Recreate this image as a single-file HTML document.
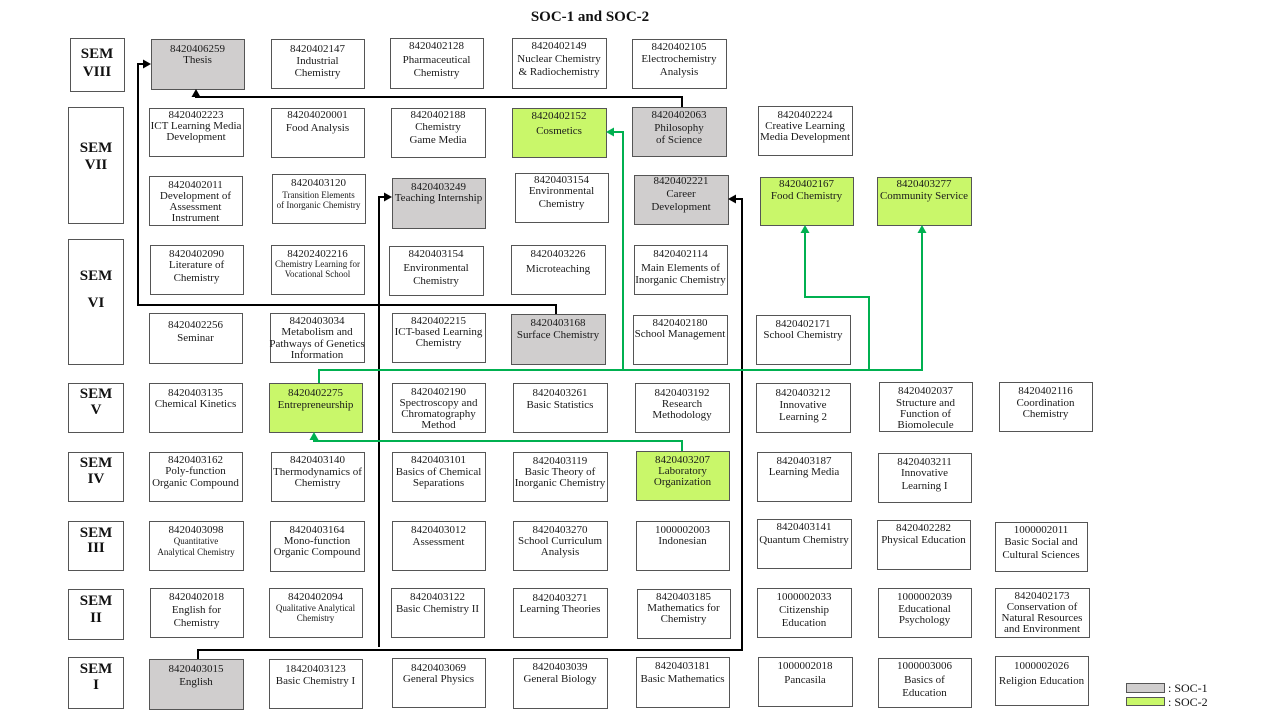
<!DOCTYPE html>
<html>
<head>
<meta charset="utf-8">
<style>
  html,body{margin:0;padding:0;background:#fff;}
  svg{display:block;}
  .b{fill:#fff;stroke:#555;stroke-width:1;}
  .g{fill:#d0cece;stroke:#555;stroke-width:1;}
  .y{fill:#c9f76a;stroke:#555;stroke-width:1;}
  .t{font-family:"Liberation Serif",serif;font-size:11px;text-anchor:middle;fill:#1a1a1a;}
  .s{font-size:9px;}
  .sem{font-family:"Liberation Serif",serif;font-size:15px;font-weight:bold;text-anchor:middle;fill:#111;}
  .kl{fill:none;stroke:#000;stroke-width:2;}
  .gl{fill:none;stroke:#00b050;stroke-width:2;}
</style>
</head>
<body>
<svg width="1280" height="720" viewBox="0 0 1280 720" xmlns="http://www.w3.org/2000/svg">
<rect width="1280" height="720" fill="#fff"/>
<text x="590" y="21" font-family="Liberation Serif, serif" font-size="15" font-weight="bold" text-anchor="middle" fill="#111">SOC-1 and SOC-2</text>

<!-- SEM labels -->
<rect class="b" x="70.5" y="38.5" width="54" height="53"/>
<text class="sem" x="97" y="58">SEM</text><text class="sem" x="97" y="76">VIII</text>
<rect class="b" x="68.5" y="107.5" width="55" height="116"/>
<text class="sem" x="96" y="152">SEM</text><text class="sem" x="96" y="169">VII</text>
<rect class="b" x="68.5" y="239.5" width="55" height="125"/>
<text class="sem" x="96" y="280">SEM</text><text class="sem" x="96" y="307">VI</text>
<rect class="b" x="68.5" y="383.5" width="55" height="49"/>
<text class="sem" x="96" y="398">SEM</text><text class="sem" x="96" y="414">V</text>
<rect class="b" x="68.5" y="452.5" width="55" height="49"/>
<text class="sem" x="96" y="467">SEM</text><text class="sem" x="96" y="483">IV</text>
<rect class="b" x="68.5" y="521.5" width="55" height="49"/>
<text class="sem" x="96" y="537">SEM</text><text class="sem" x="96" y="552">III</text>
<rect class="b" x="68.5" y="589.5" width="55" height="50"/>
<text class="sem" x="96" y="605">SEM</text><text class="sem" x="96" y="622">II</text>
<rect class="b" x="68.5" y="657.5" width="55" height="51"/>
<text class="sem" x="96" y="673">SEM</text><text class="sem" x="96" y="689">I</text>

<!-- Row VIII -->
<rect class="g" x="151.5" y="39.5" width="93" height="50"/>
<text class="t" x="197.5" y="52">8420406259</text><text class="t" x="197.5" y="63">Thesis</text>
<rect class="b" x="271.5" y="39.5" width="93" height="49"/>
<text class="t" x="317.5" y="52">8420402147</text><text class="t" x="317.5" y="64">Industrial</text><text class="t" x="317.5" y="76">Chemistry</text>
<rect class="b" x="390.5" y="38.5" width="93" height="50"/>
<text class="t" x="436.5" y="49">8420402128</text><text class="t" x="436.5" y="63">Pharmaceutical</text><text class="t" x="436.5" y="76">Chemistry</text>
<rect class="b" x="512.5" y="38.5" width="94" height="50"/>
<text class="t" x="559" y="49">8420402149</text><text class="t" x="559" y="62">Nuclear Chemistry</text><text class="t" x="559" y="75">&amp; Radiochemistry</text>
<rect class="b" x="632.5" y="39.5" width="94" height="49"/>
<text class="t" x="679" y="50">8420402105</text><text class="t" x="679" y="62">Electrochemistry</text><text class="t" x="679" y="75">Analysis</text>

<!-- Row VII a -->
<rect class="b" x="149.5" y="108.5" width="94" height="48"/>
<text class="t" x="196" y="118">8420402223</text><text class="t" x="196" y="129">ICT Learning Media</text><text class="t" x="196" y="140">Development</text>
<rect class="b" x="271.5" y="108.5" width="93" height="49"/>
<text class="t" x="317.5" y="118">84204020001</text><text class="t" x="317.5" y="131">Food Analysis</text>
<rect class="b" x="391.5" y="108.5" width="94" height="49"/>
<text class="t" x="438" y="118">8420402188</text><text class="t" x="438" y="130">Chemistry</text><text class="t" x="438" y="143">Game Media</text>
<rect class="y" x="512.5" y="108.5" width="94" height="49"/>
<text class="t" x="559" y="119">8420402152</text><text class="t" x="559" y="134">Cosmetics</text>
<rect class="g" x="632.5" y="107.5" width="94" height="49"/>
<text class="t" x="679" y="118">8420402063</text><text class="t" x="679" y="131">Philosophy</text><text class="t" x="679" y="143">of Science</text>
<rect class="b" x="758.5" y="106.5" width="94" height="49"/>
<text class="t" x="805" y="118">8420402224</text><text class="t" x="805" y="129">Creative Learning</text><text class="t" x="805" y="140">Media Development</text>

<!-- Row VII b -->
<rect class="b" x="149.5" y="176.5" width="93" height="49"/>
<text class="t" x="195.5" y="188">8420402011</text><text class="t" x="195.5" y="199">Development of</text><text class="t" x="195.5" y="210">Assessment</text><text class="t" x="195.5" y="221">Instrument</text>
<rect class="b" x="272.5" y="174.5" width="93" height="49"/>
<text class="t" x="318.5" y="186">8420403120</text><text class="t s" x="318.5" y="198">Transition Elements</text><text class="t s" x="318.5" y="208">of Inorganic Chemistry</text>
<rect class="g" x="392.5" y="178.5" width="93" height="50"/>
<text class="t" x="438.5" y="190">8420403249</text><text class="t" x="438.5" y="201">Teaching Internship</text>
<rect class="b" x="515.5" y="173.5" width="93" height="49"/>
<text class="t" x="561.5" y="183">8420403154</text><text class="t" x="561.5" y="194">Environmental</text><text class="t" x="561.5" y="207">Chemistry</text>
<rect class="g" x="634.5" y="175.5" width="94" height="49"/>
<text class="t" x="681" y="184">8420402221</text><text class="t" x="681" y="197">Career</text><text class="t" x="681" y="210">Development</text>
<rect class="y" x="760.5" y="177.5" width="93" height="48"/>
<text class="t" x="806.5" y="187">8420402167</text><text class="t" x="806.5" y="199">Food Chemistry</text>
<rect class="y" x="877.5" y="177.5" width="94" height="48"/>
<text class="t" x="924" y="187">8420403277</text><text class="t" x="924" y="199" textLength="88" lengthAdjust="spacingAndGlyphs">Community Service</text>

<!-- Row VI a -->
<rect class="b" x="150.5" y="245.5" width="93" height="49"/>
<text class="t" x="196.5" y="257">8420402090</text><text class="t" x="196.5" y="268">Literature of</text><text class="t" x="196.5" y="281">Chemistry</text>
<rect class="b" x="271.5" y="245.5" width="93" height="49"/>
<text class="t" x="317.5" y="257">84202402216</text><text class="t s" x="317.5" y="267">Chemistry Learning for</text><text class="t s" x="317.5" y="277">Vocational School</text>
<rect class="b" x="389.5" y="246.5" width="94" height="49"/>
<text class="t" x="436" y="257">8420403154</text><text class="t" x="436" y="271">Environmental</text><text class="t" x="436" y="284">Chemistry</text>
<rect class="b" x="511.5" y="245.5" width="94" height="49"/>
<text class="t" x="558" y="257">8420403226</text><text class="t" x="558" y="272">Microteaching</text>
<rect class="b" x="634.5" y="245.5" width="93" height="49"/>
<text class="t" x="680.5" y="257">8420402114</text><text class="t" x="680.5" y="271">Main Elements of</text><text class="t" x="680.5" y="283">Inorganic Chemistry</text>

<!-- Row VI b -->
<rect class="b" x="149.5" y="313.5" width="93" height="50"/>
<text class="t" x="195.5" y="328">8420402256</text><text class="t" x="195.5" y="341">Seminar</text>
<rect class="b" x="270.5" y="313.5" width="94" height="49"/>
<text class="t" x="317" y="324">8420403034</text><text class="t" x="317" y="335">Metabolism and</text><text class="t" x="317" y="347">Pathways of Genetics</text><text class="t" x="317" y="358">Information</text>
<rect class="b" x="392.5" y="313.5" width="93" height="49"/>
<text class="t" x="438.5" y="324">8420402215</text><text class="t" x="438.5" y="335">ICT-based Learning</text><text class="t" x="438.5" y="346">Chemistry</text>
<rect class="g" x="511.5" y="314.5" width="94" height="50"/>
<text class="t" x="558" y="326">8420403168</text><text class="t" x="558" y="338">Surface Chemistry</text>
<rect class="b" x="633.5" y="315.5" width="94" height="49"/>
<text class="t" x="680" y="326">8420402180</text><text class="t" x="680" y="337">School Management</text>
<rect class="b" x="756.5" y="315.5" width="94" height="49"/>
<text class="t" x="803" y="327">8420402171</text><text class="t" x="803" y="338">School Chemistry</text>

<!-- Row V -->
<rect class="b" x="149.5" y="383.5" width="93" height="49"/>
<text class="t" x="195.5" y="396">8420403135</text><text class="t" x="195.5" y="407">Chemical Kinetics</text>
<rect class="y" x="269.5" y="383.5" width="93" height="49"/>
<text class="t" x="315.5" y="396">8420402275</text><text class="t" x="315.5" y="408">Entrepreneurship</text>
<rect class="b" x="392.5" y="383.5" width="93" height="49"/>
<text class="t" x="438.5" y="395">8420402190</text><text class="t" x="438.5" y="406">Spectroscopy and</text><text class="t" x="438.5" y="417">Chromatography</text><text class="t" x="438.5" y="428">Method</text>
<rect class="b" x="513.5" y="383.5" width="94" height="49"/>
<text class="t" x="560" y="396">8420403261</text><text class="t" x="560" y="408">Basic Statistics</text>
<rect class="b" x="635.5" y="383.5" width="94" height="49"/>
<text class="t" x="682" y="396">8420403192</text><text class="t" x="682" y="407">Research</text><text class="t" x="682" y="418">Methodology</text>
<rect class="b" x="756.5" y="383.5" width="94" height="49"/>
<text class="t" x="803" y="396">8420403212</text><text class="t" x="803" y="408">Innovative</text><text class="t" x="803" y="420">Learning 2</text>
<rect class="b" x="879.5" y="382.5" width="93" height="49"/>
<text class="t" x="925.5" y="394">8420402037</text><text class="t" x="925.5" y="406">Structure and</text><text class="t" x="925.5" y="417">Function of</text><text class="t" x="925.5" y="428">Biomolecule</text>
<rect class="b" x="999.5" y="382.5" width="93" height="49"/>
<text class="t" x="1045.5" y="394">8420402116</text><text class="t" x="1045.5" y="406">Coordination</text><text class="t" x="1045.5" y="417">Chemistry</text>

<!-- Row IV -->
<rect class="b" x="149.5" y="452.5" width="93" height="49"/>
<text class="t" x="195.5" y="463">8420403162</text><text class="t" x="195.5" y="474">Poly-function</text><text class="t" x="195.5" y="486">Organic Compound</text>
<rect class="b" x="271.5" y="452.5" width="93" height="49"/>
<text class="t" x="317.5" y="463">8420403140</text><text class="t" x="317.5" y="475">Thermodynamics of</text><text class="t" x="317.5" y="486">Chemistry</text>
<rect class="b" x="392.5" y="452.5" width="93" height="49"/>
<text class="t" x="438.5" y="463">8420403101</text><text class="t" x="438.5" y="475">Basics of Chemical</text><text class="t" x="438.5" y="486">Separations</text>
<rect class="b" x="513.5" y="452.5" width="94" height="49"/>
<text class="t" x="560" y="464">8420403119</text><text class="t" x="560" y="475">Basic Theory of</text><text class="t" x="560" y="486">Inorganic Chemistry</text>
<rect class="y" x="636.5" y="451.5" width="93" height="49"/>
<text class="t" x="682.5" y="463">8420403207</text><text class="t" x="682.5" y="474">Laboratory</text><text class="t" x="682.5" y="485">Organization</text>
<rect class="b" x="757.5" y="452.5" width="94" height="49"/>
<text class="t" x="804" y="464">8420403187</text><text class="t" x="804" y="475">Learning Media</text>
<rect class="b" x="878.5" y="453.5" width="93" height="49"/>
<text class="t" x="924.5" y="465">8420403211</text><text class="t" x="924.5" y="476">Innovative</text><text class="t" x="924.5" y="489">Learning I</text>

<!-- Row III -->
<rect class="b" x="149.5" y="521.5" width="94" height="49"/>
<text class="t" x="196" y="533">8420403098</text><text class="t s" x="196" y="544">Quantitative</text><text class="t s" x="196" y="555">Analytical Chemistry</text>
<rect class="b" x="270.5" y="521.5" width="94" height="50"/>
<text class="t" x="317" y="533">8420403164</text><text class="t" x="317" y="544">Mono-function</text><text class="t" x="317" y="555">Organic Compound</text>
<rect class="b" x="392.5" y="521.5" width="93" height="49"/>
<text class="t" x="438.5" y="533">8420403012</text><text class="t" x="438.5" y="545">Assessment</text>
<rect class="b" x="513.5" y="521.5" width="94" height="49"/>
<text class="t" x="560" y="533">8420403270</text><text class="t" x="560" y="544">School Curriculum</text><text class="t" x="560" y="555">Analysis</text>
<rect class="b" x="636.5" y="521.5" width="93" height="49"/>
<text class="t" x="682.5" y="533">1000002003</text><text class="t" x="682.5" y="544">Indonesian</text>
<rect class="b" x="757.5" y="519.5" width="94" height="49"/>
<text class="t" x="804" y="530">8420403141</text><text class="t" x="804" y="543">Quantum Chemistry</text>
<rect class="b" x="877.5" y="520.5" width="93" height="49"/>
<text class="t" x="923.5" y="531">8420402282</text><text class="t" x="923.5" y="543">Physical Education</text>
<rect class="b" x="995.5" y="522.5" width="92" height="49"/>
<text class="t" x="1041" y="533">1000002011</text><text class="t" x="1041" y="545">Basic Social and</text><text class="t" x="1041" y="558">Cultural Sciences</text>

<!-- Row II -->
<rect class="b" x="150.5" y="588.5" width="93" height="49"/>
<text class="t" x="196.5" y="600">8420402018</text><text class="t" x="196.5" y="613">English for</text><text class="t" x="196.5" y="626">Chemistry</text>
<rect class="b" x="269.5" y="588.5" width="93" height="49"/>
<text class="t" x="315.5" y="600">8420402094</text><text class="t s" x="315.5" y="611">Qualitative Analytical</text><text class="t s" x="315.5" y="621">Chemistry</text>
<rect class="b" x="391.5" y="588.5" width="93" height="49"/>
<text class="t" x="437.5" y="600">8420403122</text><text class="t" x="437.5" y="612">Basic Chemistry II</text>
<rect class="b" x="513.5" y="588.5" width="94" height="49"/>
<text class="t" x="560" y="601">8420403271</text><text class="t" x="560" y="612">Learning Theories</text>
<rect class="b" x="637.5" y="589.5" width="93" height="49"/>
<text class="t" x="683.5" y="600">8420403185</text><text class="t" x="683.5" y="611">Mathematics for</text><text class="t" x="683.5" y="622">Chemistry</text>
<rect class="b" x="757.5" y="588.5" width="94" height="49"/>
<text class="t" x="804" y="600">1000002033</text><text class="t" x="804" y="613">Citizenship</text><text class="t" x="804" y="626">Education</text>
<rect class="b" x="878.5" y="588.5" width="93" height="49"/>
<text class="t" x="924.5" y="600">1000002039</text><text class="t" x="924.5" y="612">Educational</text><text class="t" x="924.5" y="623">Psychology</text>
<rect class="b" x="995.5" y="588.5" width="94" height="49"/>
<text class="t" x="1042" y="599">8420402173</text><text class="t" x="1042" y="610">Conservation of</text><text class="t" x="1042" y="621">Natural Resources</text><text class="t" x="1042" y="632">and Environment</text>

<!-- Row I -->
<rect class="g" x="149.5" y="659.5" width="94" height="50"/>
<text class="t" x="196" y="672">8420403015</text><text class="t" x="196" y="685">English</text>
<rect class="b" x="269.5" y="659.5" width="93" height="49"/>
<text class="t" x="315.5" y="672">18420403123</text><text class="t" x="315.5" y="684">Basic Chemistry I</text>
<rect class="b" x="392.5" y="658.5" width="93" height="49"/>
<text class="t" x="438.5" y="671">8420403069</text><text class="t" x="438.5" y="682">General Physics</text>
<rect class="b" x="513.5" y="658.5" width="94" height="50"/>
<text class="t" x="560" y="670">8420403039</text><text class="t" x="560" y="682">General Biology</text>
<rect class="b" x="636.5" y="657.5" width="93" height="50"/>
<text class="t" x="682.5" y="669">8420403181</text><text class="t" x="682.5" y="682">Basic Mathematics</text>
<rect class="b" x="758.5" y="657.5" width="94" height="49"/>
<text class="t" x="805" y="669">1000002018</text><text class="t" x="805" y="683">Pancasila</text>
<rect class="b" x="878.5" y="658.5" width="93" height="49"/>
<text class="t" x="924.5" y="669">1000003006</text><text class="t" x="924.5" y="683">Basics of</text><text class="t" x="924.5" y="696">Education</text>
<rect class="b" x="995.5" y="656.5" width="93" height="49"/>
<text class="t" x="1041.5" y="669">1000002026</text><text class="t" x="1041.5" y="684">Religion Education</text>

<!-- Black connectors -->
<path class="kl" d="M682,107 V97 H196 V95"/>
<polygon points="196,89 191.5,97 200.5,97" fill="#000"/>
<path class="kl" d="M556,314 V305 H138 V64 H145"/>
<polygon points="151,64 143,59.5 143,68.5" fill="#000"/>
<path class="kl" d="M198,659 V650 H742 V199 H734"/>
<polygon points="728,199 736,194.5 736,203.5" fill="#000"/>
<path class="kl" d="M379,647 V197 H386"/>
<polygon points="392,197 384,192.5 384,201.5" fill="#000"/>

<!-- Green connectors -->
<path class="gl" d="M319,383 V370 H922 V231"/>
<polygon points="922,225 917.5,233 926.5,233" fill="#00b050"/>
<path class="gl" d="M623,370 V132 H612"/>
<polygon points="606,132 614,127.5 614,136.5" fill="#00b050"/>
<path class="gl" d="M869,370 V297 H805 V231"/>
<polygon points="805,225 800.5,233 809.5,233" fill="#00b050"/>
<path class="gl" d="M682,451 V441 H314 V438"/>
<polygon points="314,432 309.5,440 318.5,440" fill="#00b050"/>

<!-- Legend -->
<rect class="g" x="1126.5" y="683.5" width="38" height="9"/>
<rect class="y" x="1126.5" y="697.5" width="38" height="8"/>
<text x="1168" y="692" font-family="Liberation Serif, serif" font-size="12" fill="#111">: SOC-1</text>
<text x="1168" y="706" font-family="Liberation Serif, serif" font-size="12" fill="#111">: SOC-2</text>
</svg>
</body>
</html>
